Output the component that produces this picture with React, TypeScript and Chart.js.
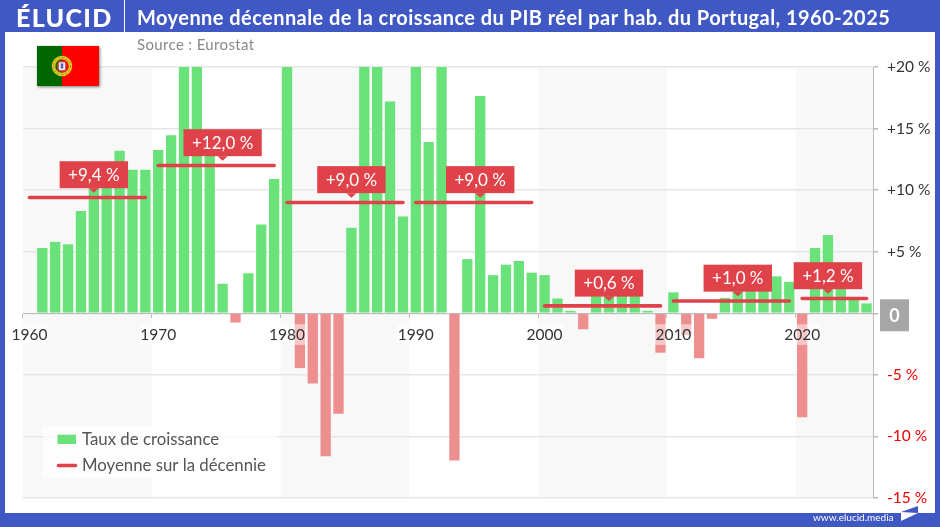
import React from 'react';

import Chart from 'chart.js/auto';

const FONT = 'Lato, "Open Sans", sans-serif';
const BLUE = '#3F58C4';
const RED = '#E0424A';

const years = [
    1960, 1961, 1962, 1963, 1964, 1965, 1966, 1967, 1968, 1969,
    1970, 1971, 1972, 1973, 1974, 1975, 1976, 1977, 1978, 1979,
    1980, 1981, 1982, 1983, 1984, 1985, 1986, 1987, 1988, 1989,
    1990, 1991, 1992, 1993, 1994, 1995, 1996, 1997, 1998, 1999,
    2000, 2001, 2002, 2003, 2004, 2005, 2006, 2007, 2008, 2009,
    2010, 2011, 2012, 2013, 2014, 2015, 2016, 2017, 2018, 2019,
    2020, 2021, 2022, 2023, 2024, 2025,
];

const growth = [
    null, 5.3, 5.8, 5.6, 8.3, 10.8, 11, 13.2, 11.65, 11.65,
    13.25, 14.45, 23, 21, 13.5, 2.4, -0.75, 3.25, 7.2, 10.9,
    22, -4.45, -5.7, -11.6, -8.15, 6.95, 21, 21, 17.2, 7.85,
    21, 13.9, 21, -11.95, 4.4, 17.65, 3.1, 3.95, 4.25, 3.3,
    3.1, 1.2, 0.2, -1.3, 1.6, 1.5, 1.6, 2.4, 0.2, -3.2,
    1.7, -1.75, -3.65, -0.45, 1.25, 2.1, 2.2, 3.4, 3, 2.55,
    -8.45, 5.3, 6.35, 2.5, 1.1, 0.8,
];

const decadeStarts = [1960, 1970, 1980, 1990, 2000, 2010, 2020];
const decadeEnds = [1969, 1979, 1989, 1999, 2009, 2019, 2025];
const decadeMeans = [9.4, 12.0, 9.0, 9.0, 0.6, 1.0, 1.2];
const decadeMiddles = [1965, 1975, 1985, 1995, 2005, 2015, 2022];
const decadeTexts = ['+9,4 %', '+12,0 %', '+9,0 %', '+9,0 %', '+0,6 %', '+1,0 %', '+1,2 %'];

const shadedStarts = [1960, 1980, 2000, 2020];
const shadedEnds = [1969, 1989, 2009, 2025];

const legendGrowth = 'Taux de croissance';
const legendMean = 'Moyenne sur la décennie';

const leftOfYear = (chart: any, year: number) => {
    const x = chart.scales.x;
    return x.getPixelForValue(years.indexOf(year)) - x.width / years.length / 2;
};

// grey background on every other decade, under the grid
const bandsPlugin = {
    id: 'bands',
    beforeDraw(chart: any) {
        const { ctx, chartArea } = chart;
        const step = chart.scales.x.width / years.length;
        ctx.save();
        ctx.fillStyle = '#F8F8F8';
        shadedStarts.forEach((start, i) => {
            const left = leftOfYear(chart, start);
            const right = leftOfYear(chart, shadedEnds[i]) + step;
            ctx.fillRect(left, chartArea.top, right - left, chartArea.bottom - chartArea.top);
        });
        ctx.restore();
    },
};

// red boxes above the decade averages
const calloutPlugin = {
    id: 'callouts',
    afterDatasetsDraw(chart: any) {
        const { ctx, scales } = chart;
        ctx.save();
        ctx.font = `17px ${FONT}`;
        ctx.textAlign = 'center';
        ctx.textBaseline = 'middle';
        decadeTexts.forEach((text, i) => {
            const x = scales.x.getPixelForValue(years.indexOf(decadeMiddles[i]));
            const lineY = scales.y.getPixelForValue(decadeMeans[i]);
            const w = ctx.measureText(text).width + 17;
            const bottom = lineY - 9.3;
            const h = 27;
            ctx.fillStyle = RED;
            ctx.fillRect(x - w / 2, bottom - h, w, h);
            ctx.beginPath();
            ctx.moveTo(x - 5, bottom);
            ctx.lineTo(x + 5, bottom);
            ctx.lineTo(x, bottom + 4.5);
            ctx.closePath();
            ctx.fill();
            ctx.fillStyle = '#fff';
            ctx.fillText(text, x, bottom - h / 2 + 0.5);
        });
        ctx.restore();
    },
};

const legendPlugin = {
    id: 'boxLegend',
    afterDraw(chart: any) {
        const { ctx } = chart;
        ctx.save();
        ctx.fillStyle = 'rgba(255,255,255,0.7)';
        ctx.fillRect(43, 426, 235, 52);
        ctx.fillStyle = '#69E27A';
        ctx.fillRect(57.5, 434.7, 18.5, 9.3);
        ctx.strokeStyle = RED;
        ctx.lineWidth = 3.6;
        ctx.lineCap = 'round';
        ctx.beginPath();
        ctx.moveTo(58.5, 465.5);
        ctx.lineTo(75.5, 465.5);
        ctx.stroke();
        ctx.font = `16.8px ${FONT}`;
        ctx.fillStyle = '#555';
        ctx.textBaseline = 'middle';
        ctx.fillText(legendGrowth, 82, 439.7);
        ctx.fillText(legendMean, 82, 465.7);
        ctx.restore();
    },
};

// the zero of the right axis sits in a grey box
const zeroPlugin = {
    id: 'zeroBox',
    afterDraw(chart: any) {
        const { ctx, scales } = chart;
        const y = scales.y.getPixelForValue(0);
        ctx.save();
        ctx.fillStyle = '#A6A6A6';
        ctx.fillRect(880, y - 14, 29, 32);
        ctx.fillStyle = '#fff';
        ctx.font = `bold 18px ${FONT}`;
        ctx.textAlign = 'center';
        ctx.textBaseline = 'middle';
        ctx.fillText('0', 894.5, y + 2.5);
        ctx.restore();
    },
};

const GrowthChart = () => {
    const canvasRef = React.useRef<HTMLCanvasElement>(null);

    React.useEffect(() => {
        const meanDatasets = decadeMeans.map((mean, i) => ({
            type: 'line' as const,
            label: legendMean,
            data: [
                { x: String(decadeStarts[i]), y: mean },
                { x: String(decadeEnds[i]), y: mean },
            ],
            borderColor: RED,
            borderWidth: 3.6,
            borderCapStyle: 'round' as const,
            pointRadius: 0,
            order: 1,
        }));

        const chart = new Chart(canvasRef.current, {
            type: 'bar',
            data: {
                labels: years.map(String),
                datasets: [
                    {
                        label: legendGrowth,
                        data: growth,
                        backgroundColor: (ctx: any) => (ctx.raw < 0 ? '#EE8F8F' : '#69E27A'),
                        barPercentage: 0.8,
                        categoryPercentage: 1,
                        order: 2,
                    },
                    ...meanDatasets,
                ],
            },
            options: {
                responsive: false,
                animation: false,
                devicePixelRatio: 1,
                layout: { padding: { top: 67, left: 23, right: 7, bottom: 29 } },
                plugins: { legend: { display: false }, tooltip: { enabled: false } },
                scales: {
                    x: {
                        position: { y: 0 },
                        grid: {
                            offset: true,
                            drawOnChartArea: false,
                            tickLength: 4,
                            tickColor: (ctx: any) => (years[ctx.index] % 10 === 0 ? '#BBBBBB' : 'transparent'),
                        },
                        border: { color: '#BBBBBB', width: 1 },
                        ticks: {
                            z: 1,
                            autoSkip: false,
                            maxRotation: 0,
                            padding: 8,
                            color: '#333',
                            font: { family: FONT, size: 15.5 },
                            showLabelBackdrop: (ctx: any) => years[ctx.index] % 10 === 0,
                            backdropColor: 'rgba(255,255,255,0.5)',
                            backdropPadding: 1,
                            callback: (_v: any, i: number) => (years[i] % 10 === 0 ? String(years[i]) : ''),
                        },
                    },
                    y: {
                        position: 'right',
                        min: -15,
                        max: 20,
                        afterFit: (scale: any) => {
                            scale.width = 60;
                        },
                        grid: { color: '#E6E6E6', lineWidth: 1.5, tickLength: 5, tickColor: '#BBBBBB' },
                        border: { color: '#BBBBBB', width: 1 },
                        ticks: {
                            stepSize: 5,
                            padding: 9,
                            font: { family: FONT, size: 15.5 },
                            color: (ctx: any) => (ctx.tick.value < 0 ? '#F00000' : '#333'),
                            callback: (v: any) => (v > 0 ? `+${v} %` : v < 0 ? `${v} %` : ''),
                        },
                    },
                },
            },
            plugins: [bandsPlugin, calloutPlugin, legendPlugin, zeroPlugin],
        } as any);

        return () => {
            chart.destroy();
        };
    }, []);

    return <canvas ref={canvasRef} width={940} height={527} style={{ position: 'absolute', left: 0, top: 0 }}></canvas>;
};

const Flag = () => (
    <svg width={62} height={40} viewBox="0 0 62 40" style={{ position: 'absolute', left: 37, top: 46, filter: 'drop-shadow(1px 1px 1.5px rgba(0,0,0,0.5))' }}>
        <rect width={25} height={40} fill="#006600" />
        <rect x={25} width={37} height={40} fill="#FF0000" />
        <circle cx={25} cy={20} r={8.5} fill="none" stroke="#E0C820" strokeWidth={3.5} />
        <circle cx={25} cy={20} r={8.5} fill="none" stroke="#6A8A20" strokeWidth={0.8} strokeDasharray="2 2" />
        <rect x={21} y={15.5} width={8} height={9.5} rx={2} fill="#E8E8F0" stroke="#D03030" strokeWidth={1.5} />
        <rect x={23.8} y={17.5} width={2.4} height={5} fill="#5060B0" />
    </svg>
);

const App = () => (
    <div style={{ position: 'fixed', left: 0, top: 0, width: 940, height: 527, background: BLUE, overflow: 'hidden', fontFamily: FONT }}>
        <div style={{ position: 'absolute', left: 4.5, top: 32, width: 930.5, height: 481, background: '#fff' }} />
        <GrowthChart />
        <Flag />
        <div style={{ position: 'absolute', left: 16, top: 0, height: 32, lineHeight: '34px', color: '#fff', fontWeight: 900, fontSize: 25, letterSpacing: 1.3, whiteSpace: 'nowrap' }}>ÉLUCID</div>
        <div style={{ position: 'absolute', left: 124, top: 0, width: 1, height: 32, background: '#fff' }} />
        <div style={{ position: 'absolute', left: 137, top: 0, height: 32, lineHeight: '35px', color: '#fff', fontWeight: 700, fontSize: 20, letterSpacing: 0.44, whiteSpace: 'nowrap' }}>
            Moyenne décennale de la croissance du PIB réel par hab. du Portugal, 1960-2025
        </div>
        <div style={{ position: 'absolute', left: 137, top: 35, color: '#888', fontSize: 15, letterSpacing: 0.35 }}>Source : Eurostat</div>
        <div style={{ position: 'absolute', left: 813, top: 511, color: '#fff', fontSize: 10, whiteSpace: 'nowrap' }}>www.elucid.media</div>
        <svg width={940} height={527} style={{ position: 'absolute', left: 0, top: 0 }}>
            <polygon points="901,512 918,506 918,513" fill={BLUE} />
            <polygon points="901,513 918,513 901,521" fill="#fff" />
        </svg>
    </div>
);

export default App;
